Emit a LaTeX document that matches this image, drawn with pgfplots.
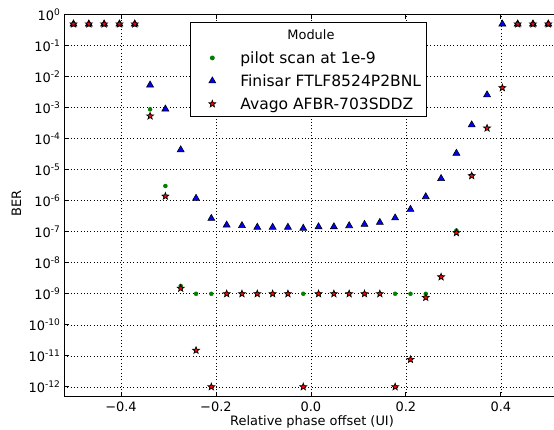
\documentclass[border=0pt]{standalone}
\usepackage{fontspec}
\setmainfont{DejaVu Sans}
\usepackage{pgfplots}
\pgfplotsset{compat=1.18}

\definecolor{mplgreen}{HTML}{008000}

% filled five-pointed star, like matplotlib's '*'
\pgfdeclareplotmark{mystar}{%
  \pgfpathmoveto{\pgfpointpolar{90}{\pgfplotmarksize}}%
  \pgfpathlineto{\pgfpointpolar{126}{0.42\pgfplotmarksize}}%
  \pgfpathlineto{\pgfpointpolar{162}{\pgfplotmarksize}}%
  \pgfpathlineto{\pgfpointpolar{198}{0.42\pgfplotmarksize}}%
  \pgfpathlineto{\pgfpointpolar{234}{\pgfplotmarksize}}%
  \pgfpathlineto{\pgfpointpolar{270}{0.42\pgfplotmarksize}}%
  \pgfpathlineto{\pgfpointpolar{306}{\pgfplotmarksize}}%
  \pgfpathlineto{\pgfpointpolar{342}{0.42\pgfplotmarksize}}%
  \pgfpathlineto{\pgfpointpolar{18}{\pgfplotmarksize}}%
  \pgfpathlineto{\pgfpointpolar{54}{0.42\pgfplotmarksize}}%
  \pgfpathclose
  \pgfusepathqfillstroke
}

\pgfplotsset{
    markleg/.style={legend image code/.code={%
        \node[draw=none, fill=none, anchor=center, inner sep=0pt, minimum width=34bp, minimum height=2bp, text height=0pt, text depth=0pt] at (17bp,0bp) {};
        \draw[##1] plot coordinates {(17bp,0bp)};}},
}

\begin{document}
\begin{tikzpicture}
\begin{axis}[
    scale only axis,
    width=490bp, height=382bp,
    ymode=log, log basis y=10,
    xmin=-0.52, xmax=0.512,
    ymin=4.8e-13, ymax=1,
    axis x line=box, axis y line=left,
    axis line style={-, line width=0.8bp, black},
    xtick={-0.4,-0.2,0,0.2,0.4},
    xticklabels={−0.4,−0.2,0.0,0.2,0.4},
    ytick={1e-12,1e-11,1e-10,1e-9,1e-8,1e-7,1e-6,1e-5,1e-4,1e-3,1e-2,1e-1,1},
    yticklabel={10\textsuperscript{\pgfmathparse{int(round(\tick))}\pgfmathresult}},
    yminorticks=false,
    tick align=inside,
    major tick length=4.5bp,
    tick style={black, line width=0.8bp},
    tick label style={font=\fontsize{13}{15}\selectfont},
    xticklabel style={yshift=-2bp},
    grid=major,
    major grid style={black, line width=0.6bp, dash pattern=on 1bp off 2.3bp},
    xlabel={Relative phase offset (UI)},
    ylabel={BER},
    every axis x label/.style={at={(axis description cs:0.5,0)}, xshift=3bp, yshift=-29bp, anchor=base, font=\fontsize{13}{15}\selectfont},
    every axis y label/.style={at={(axis description cs:0,0.505)}, xshift=-42.8bp, rotate=90, anchor=base, font=\fontsize{13}{15}\selectfont},
    legend style={at={(0.257,0.980)}, anchor=north west,
        font=\fontsize{15.6}{18}\selectfont,
        draw=black, line width=0.8bp, fill=white,
        inner xsep=5bp, inner ysep=0.7bp,
        column sep=11bp, row sep=0pt,
        nodes={text height=11.5bp, text depth=0bp, inner ysep=5.75bp, inner xsep=0pt}},
    legend cell align=left,
    legend entries={\phantom{x},pilot scan at 1e-9,Finisar FTLF8524P2BNL,Avago AFBR-703SDDZ},
]
\addlegendimage{empty legend}

% pilot scan at 1e-9
\addplot[only marks, markleg, mark=*, mark size=2bp, color=mplgreen, fill=mplgreen] coordinates {
 (-0.3387,8.9e-4) (-0.3065,3.0e-6) (-0.2742,1.8e-9) (-0.2419,1e-9)
 (-0.2097,1e-9) (-0.1774,1e-9) (-0.1452,1e-9) (-0.1129,1e-9)
 (-0.0806,1e-9) (-0.0484,1e-9) (-0.0161,1e-9) (0.0161,1e-9)
 (0.0484,1e-9) (0.0806,1e-9) (0.1129,1e-9) (0.1452,1e-9)
 (0.1774,1e-9) (0.2097,1e-9) (0.2419,1e-9) (0.2742,3.5e-9)
 (0.3065,1.1e-7) (0.3387,6.6e-6)
};

% Finisar FTLF8524P2BNL
\addplot[only marks, markleg, mark=triangle*, mark size=4bp,
    mark options={fill=blue, draw=black, line width=0.6bp}] coordinates {
 (-0.5,0.5) (-0.4677,0.5) (-0.4355,0.5) (-0.4032,0.5) (-0.3710,0.5)
 (-0.3387,5.4e-3) (-0.3065,9.1e-4) (-0.2742,4.4e-5) (-0.2419,1.2e-6)
 (-0.2097,2.7e-7) (-0.1774,1.65e-7) (-0.1452,1.58e-7) (-0.1129,1.4e-7)
 (-0.0806,1.4e-7) (-0.0484,1.4e-7) (-0.0161,1.3e-7) (0.0161,1.45e-7)
 (0.0484,1.45e-7) (0.0806,1.57e-7) (0.1129,1.73e-7) (0.1452,2.0e-7)
 (0.1774,2.8e-7) (0.2097,5.3e-7) (0.2419,1.35e-6) (0.2742,5.2e-6)
 (0.3065,3.4e-5) (0.3387,2.8e-4) (0.3710,2.6e-3) (0.4032,0.5)
 (0.4355,0.5) (0.4677,0.5) (0.5,0.5)
};

% Avago AFBR-703SDDZ
\addplot[only marks, markleg, mark=mystar, mark size=3.6bp,
    mark options={fill=red, draw=black, line width=0.7bp}] coordinates {
 (-0.5,0.5) (-0.4677,0.5) (-0.4355,0.5) (-0.4032,0.5) (-0.3710,0.5)
 (-0.3387,5.4e-4) (-0.3065,1.4e-6) (-0.2742,1.5e-9) (-0.2419,1.5e-11)
 (-0.2097,1e-12) (-0.1774,1e-9) (-0.1452,1e-9) (-0.1129,1e-9)
 (-0.0806,1e-9) (-0.0484,1e-9) (-0.0161,1e-12) (0.0161,1e-9)
 (0.0484,1e-9) (0.0806,1e-9) (0.1129,1e-9) (0.1452,1e-9)
 (0.1774,1e-12) (0.2097,7.6e-12) (0.2419,7.6e-10) (0.2742,3.5e-9)
 (0.3065,9.3e-8) (0.3387,6.4e-6) (0.3710,2.2e-4) (0.4032,4.4e-3)
 (0.4355,0.5) (0.4677,0.5) (0.5,0.5)
};

\coordinate (ttl) at (rel axis cs:0.504,0.947);
\end{axis}
\node[font=\fontsize{13}{15}\selectfont] at (ttl) {Module};
\pgfresetboundingbox
\path[use as bounding box] ([xshift=-64bp,yshift=-32.3bp]current axis.south west) rectangle ([yshift=14.7bp]current axis.north east);
\end{tikzpicture}
\end{document}
